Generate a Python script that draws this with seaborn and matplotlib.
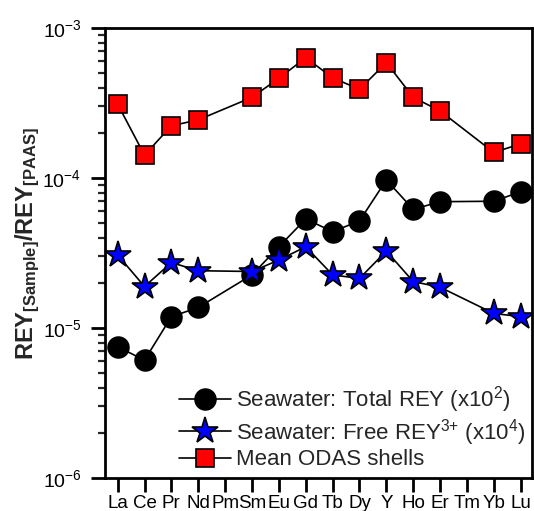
import numpy as np
import pandas as pd
import matplotlib
matplotlib.use("Agg")
import matplotlib.pyplot as plt
from matplotlib.lines import Line2D
from matplotlib import font_manager
import seaborn as sns

elements = ["La", "Ce", "Pr", "Nd", "Pm", "Sm", "Eu", "Gd", "Tb", "Dy", "Y", "Ho", "Er", "Tm", "Yb", "Lu"]
nan = np.nan
total_rey = [7.5e-6, 6.1e-6, 1.19e-5, 1.37e-5, nan, 2.26e-5, 3.48e-5, 5.33e-5, 4.39e-5, 5.17e-5,
             9.7e-5, 6.18e-5, 6.95e-5, nan, 7.0e-5, 8.1e-5]
free_rey = [3.07e-5, 1.89e-5, 2.73e-5, 2.41e-5, nan, 2.38e-5, 2.84e-5, 3.48e-5, 2.26e-5, 2.14e-5,
            3.26e-5, 2.04e-5, 1.87e-5, nan, 1.25e-5, 1.19e-5]
odas = [3.11e-4, 1.42e-4, 2.23e-4, 2.44e-4, nan, 3.45e-4, 4.62e-4, 6.34e-4, 4.66e-4, 3.90e-4,
        5.88e-4, 3.45e-4, 2.80e-4, nan, 1.48e-4, 1.69e-4]
labels = ["Seawater: Total REY (x10$^{2}$)", "Seawater: Free REY$^{3{+}}$ (x10$^{4}$)", "Mean ODAS shells"]
ytick_labels = ["10$^{-6}$", "10$^{-5}$", "10$^{-4}$", "10$^{-3}$"]

sns.set_style("ticks")
plt.rcParams["font.family"] = ["Liberation Sans", "DejaVu Sans"]
plt.rcParams["mathtext.fontset"] = "custom"
plt.rcParams["mathtext.rm"] = "Liberation Sans"
plt.rcParams["mathtext.it"] = "Liberation Sans:italic"
plt.rcParams["mathtext.bf"] = "Liberation Sans:bold"

installed = {f.name for f in font_manager.fontManager.ttflist}
narrow = "Liberation Sans Narrow" in installed

fig = plt.figure(figsize=(5.34, 5.11), dpi=100)
ax = fig.add_axes([105/534, 1 - 478/511, (532-105)/534, (478-28)/511])

idx = np.arange(len(elements))
df = pd.DataFrame({"x": idx, "total": total_rey, "free": free_rey, "odas": odas})

styles = [
    ("total", "o", "black", 15, labels[0]),
    ("free", "*", "#0000ff", 20, labels[1]),
    ("odas", "s", "#ff0000", 12.5, labels[2]),
]
handles = []
for col, mk, fc, ms, lab in styles:
    d = df.dropna(subset=[col])
    sns.lineplot(data=d, x="x", y=col, ax=ax, color="black", linewidth=1.2,
                 marker=mk, markersize=ms, markerfacecolor=fc, markeredgecolor="black",
                 markeredgewidth=1.2, label=lab, legend=False)
    handles.append(Line2D([], [], color="black", linewidth=1.2, marker=mk, markersize=ms,
                          markerfacecolor=fc, markeredgecolor="black", markeredgewidth=1.2))

ax.set_yscale("log")
ax.set_ylim(1e-6, 1e-3)
ax.set_xlim(-0.47, 15.42)
ax.set_xticks(idx)
ax.set_xticklabels(elements)
ax.set_yticks([1e-6, 1e-5, 1e-4, 1e-3])
ax.set_yticklabels(ytick_labels)
ax.set_xlabel("")

ylab = "REY$_{\\mathbf{[Sample]}}$/REY$_{\\mathbf{[PAAS]}}$"
if narrow:
    plt.rcParams["mathtext.bf"] = "Liberation Sans Narrow:bold"
    ax.set_ylabel(ylab, fontsize=20, fontweight="bold", family="Liberation Sans Narrow")
else:
    ax.set_ylabel(ylab, fontsize=17, fontweight="bold")
ax.yaxis.set_label_coords((42 - 105) / 427, 0.52)

for s in ax.spines.values():
    s.set_linewidth(2.0)
    s.set_color("black")
ax.tick_params(axis="both", which="major", direction="out", length=10, width=2.0,
               labelsize=14, colors="black")
ax.tick_params(axis="y", which="minor", direction="out", length=5, width=1.6)
ax.tick_params(axis="x", which="major", labelsize=13.5, pad=2)
ax.tick_params(axis="y", which="major", pad=7)

leg = ax.legend(handles, labels, loc="lower left", frameon=False, fontsize=16,
                handlelength=2.35, handletextpad=0.25, labelspacing=0.08,
                bbox_to_anchor=(172/534, 1 - 477/511), bbox_transform=fig.transFigure,
                borderaxespad=0.0, borderpad=0.3)

fig.savefig("out.png", dpi=100)
